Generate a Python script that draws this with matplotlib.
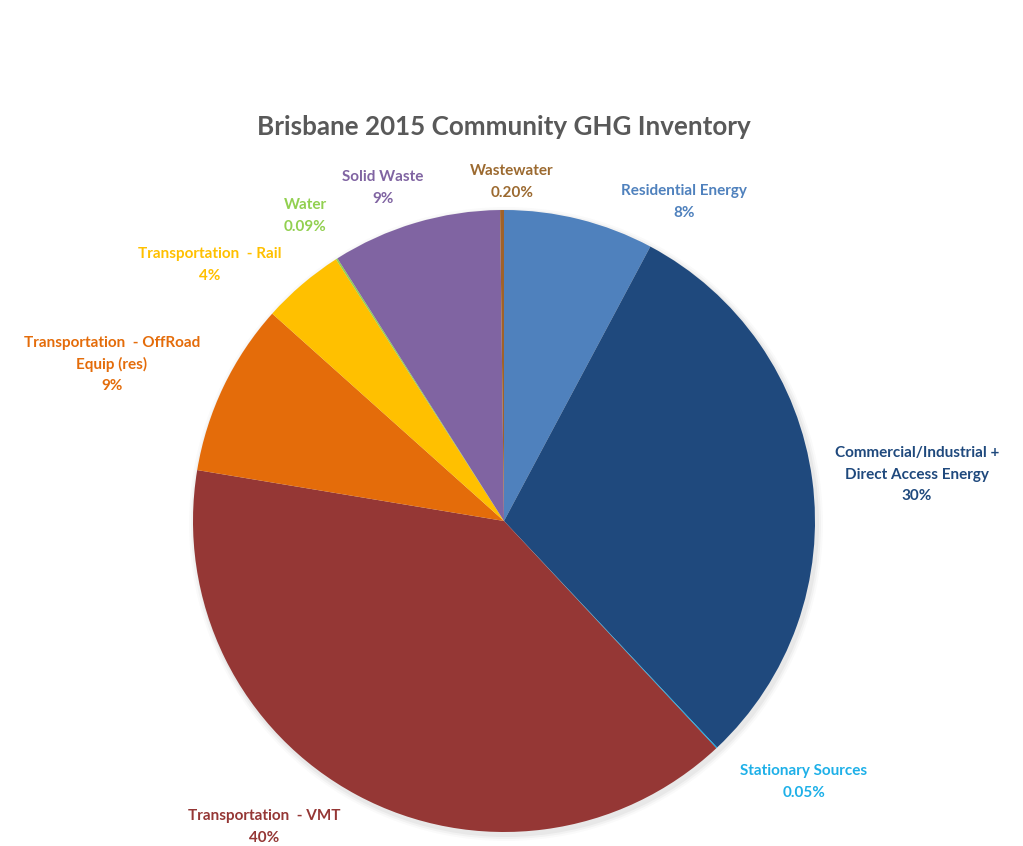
import matplotlib
matplotlib.use("Agg")
import matplotlib.pyplot as plt
from matplotlib.patches import Circle

# ---- data ----
categories = ["Residential Energy", "Commercial/Industrial +\nDirect Access Energy",
              "Stationary Sources", "Transportation  - VMT",
              "Transportation  - OffRoad\nEquip (res)", "Transportation  - Rail",
              "Water", "Solid Waste", "Wastewater"]
values = [7.8, 30.2, 0.05, 39.6, 9.0, 4.3, 0.09, 8.8, 0.20]
value_labels = ["8%", "30%", "0.05%", "40%", "9%", "4%", "0.09%", "9%", "0.20%"]
colors = ["#4F81BD", "#1F497D", "#00B0F0", "#953735", "#E46C0A",
          "#FFC000", "#92D050", "#8064A2", "#A0622A"]
label_colors = ["#4F81BD", "#1F497D", "#1EB0E8", "#953735", "#E46C0A",
                "#FFC000", "#92D050", "#8064A2", "#9C6A30"]
title = "Brisbane 2015 Community GHG Inventory"

# label centres in pixel coords (x, y from top of the first line)
label_pos = [(684, 191), (917, 453), (804, 771), (264, 816), (112, 343),
             (210, 254), (305, 205), (383, 177), (512, 171)]

W, H = 1023, 846
fig = plt.figure(figsize=(W / 100, H / 100), dpi=100)
ax = fig.add_axes([0, 0, 1, 1])

cx, cy, r = 504, 521, 311
# subtle shadow
for i, a in enumerate([0.04, 0.03, 0.02]):
    ax.add_patch(Circle((cx + 2, H - cy - 3), r + 2 + 2 * i, color="black", alpha=a, lw=0, zorder=0))

ax.pie(values, colors=colors, startangle=90, counterclock=False,
       center=(cx, H - cy), radius=r, frame=True,
       wedgeprops=dict(linewidth=0, zorder=1))
ax.set_xlim(0, W)
ax.set_ylim(0, H)
ax.axis("off")

font = ["Lato", "DejaVu Sans"]
lh = 21.5
for cat, vl, col, (x, y) in zip(categories, value_labels, label_colors, label_pos):
    lines = cat.split("\n") + [vl]
    for k, line in enumerate(lines):
        ax.text(x, H - (y + k * lh), line, ha="center", va="center", color=col,
                fontsize=11, fontweight="bold", family=font)

ax.text(504, H - 127, title, ha="center", va="center", color="#595959",
        fontsize=18.7, fontweight="bold", family=font)

fig.savefig("out.png", dpi=100)
